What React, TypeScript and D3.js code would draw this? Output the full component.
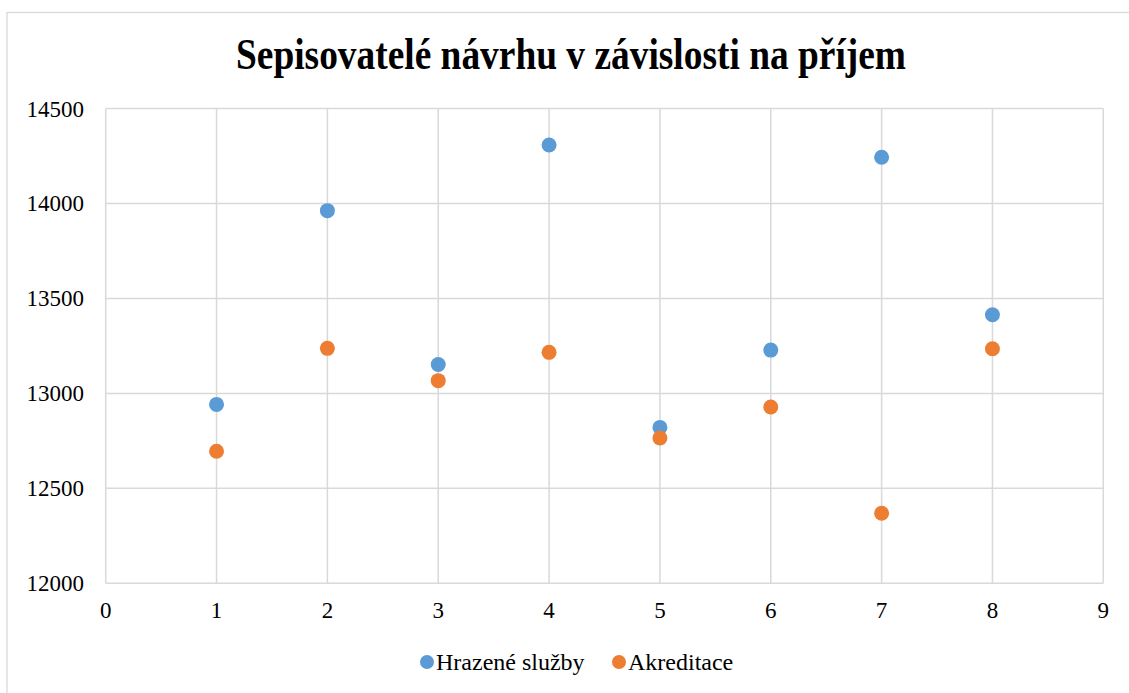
import React from "react";
import * as d3 from "d3";

const xValues = [1, 2, 3, 4, 5, 6, 7, 8];
const hrazeneSluzby = [12942, 13962, 13152, 14308, 12821, 13228, 14243, 13414];
const akreditace = [12695, 13237, 13067, 13216, 12765, 12928, 12369, 13235];
const xTicks = [0, 1, 2, 3, 4, 5, 6, 7, 8, 9];
const yTicks = [12000, 12500, 13000, 13500, 14000, 14500];
const seriesNames = ["Hrazené služby", "Akreditace"];
const title = "Sepisovatelé návrhu v závislosti na příjem";

const W = 1129;
const H = 693;
const colors = ["#5B9BD5", "#ED7D31"];
const font = "'Liberation Serif', 'Times New Roman', serif";
const ts = { fontFamily: font };

export default function App() {
  const x = d3.scaleLinear().domain([0, 9]).range([105.7, 1103.3]);
  const y = d3.scaleLinear().domain([12000, 14500]).range([583.3, 108.5]);
  const series = [hrazeneSluzby, akreditace];

  return (
    <svg
      width={W}
      height={H}
      style={{ position: "absolute", left: 0, top: 0, background: "#fff" }}
    >
      <rect x={7} y={12.5} width={W} height={H} fill="#fff" stroke="#d9d9d9" strokeWidth={1.3} />
      <text
        x={571}
        y={69}
        textAnchor="middle"
        fontSize={44}
        fontWeight="bold"
        fill="#000"
        style={ts}
        transform="translate(571,69) scale(0.85,1) translate(-571,-69)"
      >
        {title}
      </text>
      {yTicks.map((t) => (
        <line key={"gy" + t} x1={x(0)} x2={x(9)} y1={y(t)} y2={y(t)} stroke="#d9d9d9" strokeWidth={1.5} />
      ))}
      {xTicks.map((t) => (
        <line key={"gx" + t} x1={x(t)} x2={x(t)} y1={y(12000)} y2={y(14500)} stroke="#d9d9d9" strokeWidth={1.5} />
      ))}
      {yTicks.map((t) => (
        <text key={"ly" + t} x={84} y={y(t) + 8} textAnchor="end" fontSize={23} fill="#000" style={ts}>
          {t}
        </text>
      ))}
      {xTicks.map((t) => (
        <text key={"lx" + t} x={x(t)} y={618} textAnchor="middle" fontSize={23} fill="#000" style={ts}>
          {t}
        </text>
      ))}
      {series.map((s, si) =>
        s.map((v, i) => (
          <circle key={si + "-" + i} cx={x(xValues[i])} cy={y(v)} r={7.5} fill={colors[si]} />
        ))
      )}
      <g>
        <circle cx={427} cy={662} r={7} fill={colors[0]} />
        <text x={436} y={670} fontSize={24} fill="#000" style={ts}>{seriesNames[0]}</text>
        <circle cx={619} cy={662} r={7} fill={colors[1]} />
        <text x={628} y={670} fontSize={24} fill="#000" style={ts}>{seriesNames[1]}</text>
      </g>
    </svg>
  );
}
